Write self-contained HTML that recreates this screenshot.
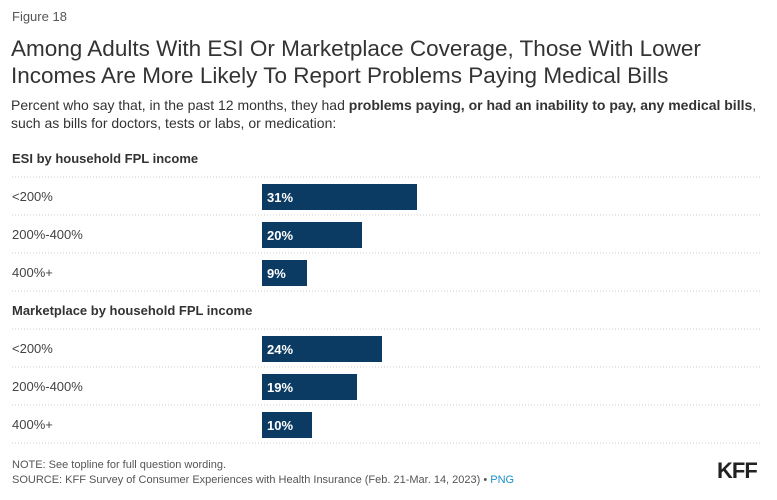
<!DOCTYPE html>
<html><head><meta charset="utf-8"><style>
body{margin:0;width:777px;height:500px;background:#fff;font-family:"Liberation Sans",Arial,sans-serif;color:#333;position:relative;overflow:hidden}
.a{position:absolute;white-space:nowrap}
</style></head><body>
<div class="a" style="left:12px;top:9px;font-size:13px;color:#555">Figure 18</div>
<div class="a" style="left:11px;top:35px;font-size:22.5px;line-height:27px;color:#333">Among Adults With ESI Or Marketplace Coverage, Those With Lower<br>Incomes Are More Likely To Report Problems Paying Medical Bills</div>
<div class="a" style="left:11px;top:96px;font-size:14px;line-height:18px;color:#333">Percent who say that, in the past 12 months, they had <b>problems paying, or had an inability to pay, any medical bills</b>,<br>such as bills for doctors, tests or labs, or medication:</div>
<svg id="chart" class="a" style="left:0;top:0" width="777" height="500"></svg>
<div class="a" style="left:12px;top:459px;font-size:11px;color:#555">NOTE: See topline for full question wording.</div>
<div class="a" style="left:12px;top:474px;font-size:11px;color:#555">SOURCE: KFF Survey of Consumer Experiences with Health Insurance (Feb. 21-Mar. 14, 2023) • <span style="color:#1a8fc8">PNG</span></div>
<div class="a" style="left:717px;top:458px;font-size:22px;font-weight:bold;color:#222;letter-spacing:-1px">KFF</div>
<script>
const groups=["ESI by household FPL income","Marketplace by household FPL income"];
const categories=["<200%","200%-400%","400%+"];
const esiValues=[31,20,9];
const marketplaceValues=[24,19,10];
const series=[esiValues,marketplaceValues];
const svg=document.getElementById('chart');
const NS='http://www.w3.org/2000/svg';
const x0=262, pxPer=5;
const xScale=v=>v*pxPer;
const groupTop=[148,300];
function mk(t,attrs){const e=document.createElementNS(NS,t);for(const k in attrs)e.setAttribute(k,attrs[k]);svg.appendChild(e);return e;}
groups.forEach((g,gi)=>{
  const top=groupTop[gi];
  const h=mk('text',{x:12,y:top+15,'font-size':13,'font-weight':'bold',fill:'#333'});
  h.textContent=g;
  
  
  categories.forEach((c,i)=>{
    const rowY=top+29+i*38;
    const ln=mk('line',{x1:12,x2:762,y1:rowY,y2:rowY,stroke:'#ccc','stroke-dasharray':'1,2'});
    
    
    const lab=mk('text',{x:12,y:rowY+24,'font-size':13,fill:'#444'});
    lab.textContent=c;
    
    
    const v=series[gi][i];
    const r=mk('rect',{x:x0,y:rowY+7,width:xScale(v),height:26,fill:'#0b3a63'});
    
    
    const t=mk('text',{x:x0+5,y:rowY+25,'font-size':13,'font-weight':'bold',fill:'#fff'});
    t.textContent=v+'%';
    
    
  });
  const bl=top+29+3*38;
  const ln=mk('line',{x1:12,x2:762,y1:bl,y2:bl,stroke:'#ccc','stroke-dasharray':'1,2'});
  
  
});
</script>
</body></html>
